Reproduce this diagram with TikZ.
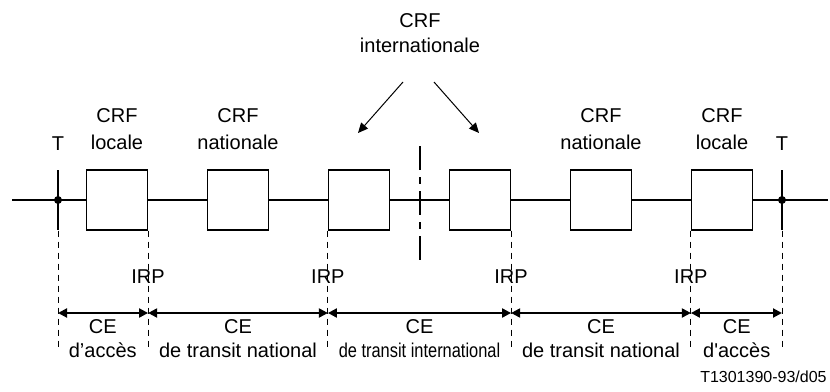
\documentclass[tikz,border=0pt]{standalone}
\usepackage{fontspec}
\setmainfont{Liberation Sans}
\newfontfamily\rawsans{Liberation Sans}
\usepackage{graphicx}
\usetikzlibrary{arrows.meta,positioning}

\begin{document}
\begin{tikzpicture}[x=0.5pt, y=-0.5pt,
    font=\fontsize{10}{13.3}\selectfont,
    crfbox/.style={draw, line width=0.6pt, fill=white, minimum width=30.5pt, minimum height=30pt, inner sep=0pt},
    trunk/.style={line width=1pt},
    guide/.style={line width=0.5pt, dash pattern=on 3pt off 2.5pt},
    cut/.style={line width=1pt, dash pattern=on 12pt off 3.5pt on 3.5pt off 3.5pt},
    span/.style={line width=1pt, {Triangle[length=4.5pt,width=4.5pt]}-{Triangle[length=4.5pt,width=4.5pt]}},
    pointer/.style={line width=0.5pt, -{Triangle[length=5pt,width=4.5pt]}},
    lbl/.style={align=center, inner sep=0pt, anchor=base},
    celbl/.style={lbl, font=\fontsize{10}{12}\selectfont}]
  \useasboundingbox (0,0) rectangle (830,391);
  \foreach \i/\x in {1/117, 2/238, 3/359, 4/480, 5/601, 6/722} {
    \node[crfbox] (b\i) at (\x,200) {};
  }
  \coordinate (lend) at (12,200);
  \coordinate (rend) at (828,200);
  \coordinate (tl) at (58,200);
  \coordinate (tr) at (782,200);
  \draw[trunk] (lend) -- (b1) -- (b2) -- (b3) -- (b4) -- (b5) -- (b6) -- (rend);
  \draw[trunk] (tl) ++(0,-30) -- ++(0,60);
  \draw[trunk] (tr) ++(0,-30) -- ++(0,60);
  \fill (tl) circle (2pt);
  \fill (tr) circle (2pt);
  \coordinate (cuttop) at (420,146);
  \coordinate (cutbot) at (420,260);
  \draw[cut] (cuttop) -- (cutbot);

  \coordinate (d0) at (tl |- b1.south);
  \coordinate (d1) at (b1.south east);
  \coordinate (d2) at (b3.south west);
  \coordinate (d3) at (b4.south east);
  \coordinate (d4) at (b6.south west);
  \coordinate (d5) at (tr |- b6.south);
  \coordinate (bot) at (0,347);
  \coordinate (arr) at (0,313);
  \foreach \p in {d0,d1,d2,d3,d4,d5} {
    \draw[guide] (\p) -- (\p |- bot);
  }
  \foreach \a/\b in {d0/d1, d1/d2, d2/d3, d3/d4, d4/d5} {
    \draw[span] (\a |- arr) -- (\b |- arr);
  }
  \foreach \p in {d1,d2,d3,d4} {
    \node[lbl] (irp-\p) at (\p |- 0,283) {IRP};
  }

  \node[lbl] (tl-lbl) at (58,150) {T};
  \node[lbl] (tr-lbl) at (782,150) {T};
  \node[lbl] (crf1) at (b1 |- 0,149.5) {CRF\\locale};
  \node[lbl] (crf2) at (b2 |- 0,149.5) {CRF\\nationale};
  \node[lbl] (crf5) at (b5 |- 0,149.5) {CRF\\nationale};
  \node[lbl] (crf6) at (b6 |- 0,149.5) {CRF\\locale};
  \node[lbl, font=\fontsize{10}{12.7}\selectfont] (intl) at (420,52.7) {CRF\\internationale};

  \coordinate (i1) at (403,82);
  \coordinate (i2) at (434,82);
  \coordinate (h1) at (358,133);
  \coordinate (h2) at (479,133);
  \draw[pointer] (i1) -- (h1);
  \draw[pointer] (i2) -- (h2);

  \node[celbl] (ce1) at (102.75,357) {CE\\d’accès};
  \node[celbl] (ce2) at (238,357) {CE\\de transit national};
  \node[celbl] (ce3) at (419.5,357) {CE\\\scalebox{0.82}[1]{de transit international}};
  \node[celbl] (ce4) at (601,357) {CE\\de transit national};
  \node[celbl] (ce5) at (736.75,357) {CE\\{\rawsans d'accès}};

  \node[anchor=base east, inner sep=0pt, font=\fontsize{8}{9}\selectfont] (code) at (827,382) {T1301390-93/d05};
\end{tikzpicture}
\end{document}
